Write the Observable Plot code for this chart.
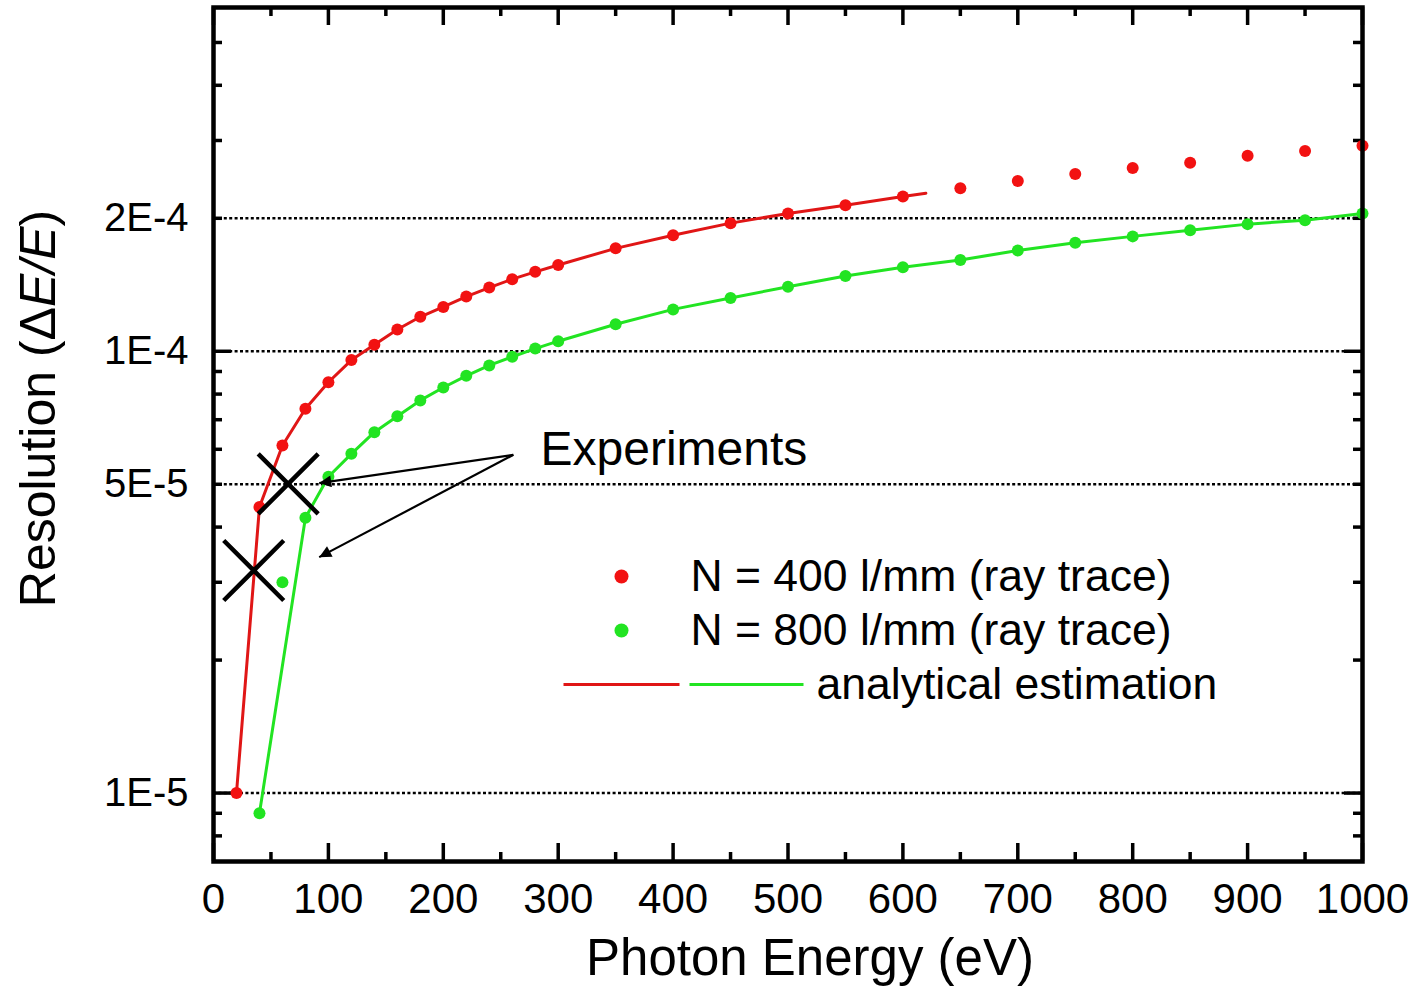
<!DOCTYPE html>
<html>
<head>
<meta charset="utf-8">
<script src="https://cdn.jsdelivr.net/npm/d3@7"></script>
<script src="https://cdn.jsdelivr.net/npm/@observablehq/plot@0.6"></script>
<style>
  html, body { margin: 0; padding: 0; background: #fff; }
  #chart svg { display: block; }
</style>
</head>
<body>
<div id="chart"></div>
<script>
// ---------- data ----------
const energyRed = [20,40,60,80,100,120,140,160,180,200,220,240,260,280,300,350,400,450,500,550,600,650,700,750,800,850,900,950,1000];
const resRed    = [1.0e-5,4.44e-5,6.12e-5,7.41e-5,8.51e-5,9.55e-5,1.035e-4,1.12e-4,1.197e-4,1.26e-4,1.33e-4,1.394e-4,1.456e-4,1.513e-4,1.568e-4,1.71e-4,1.83e-4,1.95e-4,2.05e-4,2.14e-4,2.24e-4,2.34e-4,2.43e-4,2.52e-4,2.60e-4,2.67e-4,2.77e-4,2.84e-4,2.92e-4];

const energyGreen = [40,60,80,100,120,140,160,180,200,220,240,260,280,300,350,400,450,500,550,600,650,700,750,800,850,900,950,1000];
const resGreen    = [9.0e-6,3.0e-5,4.2e-5,5.2e-5,5.86e-5,6.56e-5,7.13e-5,7.74e-5,8.28e-5,8.8e-5,9.29e-5,9.72e-5,1.014e-4,1.054e-4,1.151e-4,1.244e-4,1.32e-4,1.40e-4,1.48e-4,1.55e-4,1.61e-4,1.69e-4,1.76e-4,1.82e-4,1.88e-4,1.94e-4,1.98e-4,2.05e-4];

// analytical estimation curves
const energyRedLine = [20,40,60,80,100,120,140,160,180,200,220,240,260,280,300,350,400,450,500,550,600,620];
const resRedLine    = [1.0e-5,4.44e-5,6.12e-5,7.41e-5,8.51e-5,9.55e-5,1.035e-4,1.12e-4,1.197e-4,1.26e-4,1.33e-4,1.394e-4,1.456e-4,1.513e-4,1.568e-4,1.71e-4,1.83e-4,1.95e-4,2.05e-4,2.14e-4,2.24e-4,2.28e-4];
const energyGreenLine = [40,80,100,120,140,160,180,200,220,240,260,280,300,350,400,450,500,550,600,650,700,750,800,850,900,950,1000];
const resGreenLine    = [9.0e-6,4.2e-5,5.2e-5,5.86e-5,6.56e-5,7.13e-5,7.74e-5,8.28e-5,8.8e-5,9.29e-5,9.72e-5,1.014e-4,1.054e-4,1.151e-4,1.244e-4,1.32e-4,1.40e-4,1.48e-4,1.55e-4,1.61e-4,1.69e-4,1.76e-4,1.82e-4,1.88e-4,1.94e-4,1.98e-4,2.05e-4];

// experiments (X marks) and annotation arrows
const expEnergy = [35, 65];
const expRes    = [3.19e-5, 5.01e-5];
const arrowFromEnergy = [261, 261];
const arrowFromRes    = [5.83e-5, 5.83e-5];
const arrowToEnergy   = [92, 92];
const arrowToRes      = [5.03e-5, 3.42e-5];
const experimentsText = "Experiments";

// axes
const xTickValues = [0,100,200,300,400,500,600,700,800,900,1000];
const xMinorValues = [50,150,250,350,450,550,650,750,850,950];
const yTickValues = [1e-5, 5e-5, 1e-4, 2e-4];
const yTickLabels = ["1E-5", "5E-5", "1E-4", "2E-4"];
const yMajorValues = [1e-5, 1e-4];
const yMinorValues = [8e-6,9e-6,2e-5,3e-5,4e-5,5e-5,6e-5,7e-5,8e-5,9e-5,2e-4,3e-4,4e-4,5e-4];
const xTitle = "Photon Energy (eV)";
const yTitle = "Resolution (ΔE/E)";

// legend
const legendLabels = ["N = 400 l/mm (ray trace)", "N = 800 l/mm (ray trace)", "analytical estimation"];

// ---------- build ----------
const RED = "#f21212", RED_LINE = "#e01616", GREEN = "#22e422";
const W = 1418, H = 986;
const mT = 7, mB = 125, mL = 213, mR = 56;
const innerW = W - mL - mR, innerH = H - mT - mB;
const FONT = "'Liberation Sans', Arial, Helvetica, sans-serif";

const redDots = energyRed.map((e, i) => ({e, r: resRed[i]}));
const greenDots = energyGreen.map((e, i) => ({e, r: resGreen[i]}));
const redLine = energyRedLine.map((e, i) => ({e, r: resRedLine[i]}));
const greenLine = energyGreenLine.map((e, i) => ({e, r: resGreenLine[i]}));
const experiments = expEnergy.map((e, i) => ({e, r: expRes[i]}));
const arrows = arrowFromEnergy.map((e, i) => ({x1: e, y1: arrowFromRes[i], x2: arrowToEnergy[i], y2: arrowToRes[i]}));

const crossSymbol = {
  draw(ctx, size) {
    const r = Math.sqrt(size / Math.PI);
    ctx.moveTo(-r, -r); ctx.lineTo(r, r);
    ctx.moveTo(-r, r); ctx.lineTo(r, -r);
  }
};
const hLineSymbol = {
  draw(ctx, size) {
    const r = Math.sqrt(size / Math.PI);
    ctx.moveTo(-r, 0); ctx.lineTo(r, 0);
  }
};

const TK = 3.5;
const LEG = 44.5;
const plot = Plot.plot({
  width: W, height: H,
  marginTop: mT, marginBottom: mB, marginLeft: mL, marginRight: mR,
  style: {fontFamily: FONT, background: "#fff", color: "#000", overflow: "visible"},
  x: {domain: [0, 1000]},
  y: {type: "log", domain: [7e-6, 6e-4]},
  marks: [
    // dotted grid lines
    Plot.ruleY(yTickValues, {stroke: "#000", strokeWidth: 2.6, strokeDasharray: "3,2.4"}),
    // inward ticks
    Plot.ruleX(xTickValues, {stroke: "#000", strokeWidth: TK, insetTop: innerH - 18}),
    Plot.ruleX(xMinorValues, {stroke: "#000", strokeWidth: TK, insetTop: innerH - 9}),
    Plot.ruleX(xTickValues, {stroke: "#000", strokeWidth: TK, insetBottom: innerH - 18}),
    Plot.ruleX(xMinorValues, {stroke: "#000", strokeWidth: TK, insetBottom: innerH - 9}),
    Plot.ruleY(yMajorValues, {stroke: "#000", strokeWidth: TK, insetRight: innerW - 18}),
    Plot.ruleY(yMinorValues, {stroke: "#000", strokeWidth: TK, insetRight: innerW - 9}),
    Plot.ruleY(yMajorValues, {stroke: "#000", strokeWidth: TK, insetLeft: innerW - 18}),
    Plot.ruleY(yMinorValues, {stroke: "#000", strokeWidth: TK, insetLeft: innerW - 9}),
    // analytical curves
    Plot.line(redLine, {x: "e", y: "r", stroke: RED_LINE, strokeWidth: 3}),
    Plot.line(greenLine, {x: "e", y: "r", stroke: GREEN, strokeWidth: 3}),
    // ray trace dots
    Plot.dot(redDots, {x: "e", y: "r", r: 6, fill: RED}),
    Plot.dot(greenDots, {x: "e", y: "r", r: 6, fill: GREEN}),
    // experiments
    Plot.dot(experiments, {x: "e", y: "r", r: 30, symbol: crossSymbol, stroke: "#000", strokeWidth: 4.5, fill: "none"}),
    Plot.link(arrows, {x1: "x1", y1: "y1", x2: "x2", y2: "y2", stroke: "#000", strokeWidth: 2.2}),
    Plot.text([experimentsText], {text: d => d, frameAnchor: "top-left", dx: 540 - mL, dy: 449 - mT, textAnchor: "start", lineAnchor: "middle", fontSize: 48, fill: "#000"}),
    // legend
    Plot.dot([0], {frameAnchor: "top-left", dx: 621 - mL, dy: 576 - mT, r: 7, fill: RED}),
    Plot.dot([0], {frameAnchor: "top-left", dx: 621 - mL, dy: 630 - mT, r: 7, fill: GREEN}),
    Plot.dot([0], {frameAnchor: "top-left", dx: 621 - mL, dy: 684 - mT, r: 58, symbol: hLineSymbol, stroke: RED_LINE, strokeWidth: 3, fill: "none"}),
    Plot.dot([0], {frameAnchor: "top-left", dx: 746 - mL, dy: 684 - mT, r: 57, symbol: hLineSymbol, stroke: GREEN, strokeWidth: 3, fill: "none"}),
    Plot.text([legendLabels[0]], {text: d => d, frameAnchor: "top-left", dx: 690 - mL, dy: 576 - mT, textAnchor: "start", lineAnchor: "middle", fontSize: LEG, fill: "#000"}),
    Plot.text([legendLabels[1]], {text: d => d, frameAnchor: "top-left", dx: 690 - mL, dy: 630 - mT, textAnchor: "start", lineAnchor: "middle", fontSize: LEG, fill: "#000"}),
    Plot.text([legendLabels[2]], {text: d => d, frameAnchor: "top-left", dx: 816 - mL, dy: 684 - mT, textAnchor: "start", lineAnchor: "middle", fontSize: LEG, fill: "#000"}),
    // axes (labels only)
    Plot.axisX({ticks: xTickValues, tickSize: 0, tickPadding: 22, fontSize: 42, label: null, tickFormat: d => String(d)}),
    Plot.axisY({ticks: yTickValues, tickSize: 0, tickPadding: 25, fontSize: 40, label: null, tickFormat: d => yTickLabels[yTickValues.indexOf(d)]}),
    Plot.text([xTitle], {text: d => d, frameAnchor: "bottom", dx: 22, dy: 97, textAnchor: "middle", lineAnchor: "middle", fontSize: 51, fill: "#000"}),
    Plot.text([yTitle], {text: d => d, frameAnchor: "left", dx: 38 - mL, dy: 408 - (mT + innerH / 2), rotate: -90, textAnchor: "middle", lineAnchor: "middle", fontSize: 50, fill: "#000"}),
    // frame
    Plot.frame({stroke: "#000", strokeWidth: 4.5})
  ]
});

document.getElementById("chart").appendChild(plot);

// filled arrowheads
const ns = "http://www.w3.org/2000/svg";
const svg = plot.tagName.toLowerCase() === "svg" ? plot : plot.querySelector("svg");
const defs = document.createElementNS(ns, "defs");
const marker = document.createElementNS(ns, "marker");
marker.setAttribute("id", "ahead-fill");
marker.setAttribute("viewBox", "0 0 10 10");
marker.setAttribute("refX", "10");
marker.setAttribute("refY", "5");
marker.setAttribute("markerWidth", "18");
marker.setAttribute("markerHeight", "12");
marker.setAttribute("markerUnits", "userSpaceOnUse");
marker.setAttribute("orient", "auto");
const mp = document.createElementNS(ns, "path");
mp.setAttribute("d", "M0,0L10,5L0,10Z");
mp.setAttribute("fill", "#000");
marker.appendChild(mp);
defs.appendChild(marker);
svg.insertBefore(defs, svg.firstChild);
svg.querySelectorAll('g[aria-label="link"] path').forEach(p => p.setAttribute("marker-end", "url(#ahead-fill)"));

// italic E/E in y title
svg.querySelectorAll("text").forEach(t => {
  if (t.textContent === yTitle) {
    while (t.firstChild) t.removeChild(t.firstChild);
    const t1 = document.createElementNS(ns, "tspan"); t1.textContent = "Resolution (Δ";
    const t2 = document.createElementNS(ns, "tspan"); t2.textContent = "E/E"; t2.setAttribute("font-style", "italic");
    const t3 = document.createElementNS(ns, "tspan"); t3.textContent = ")";
    t.appendChild(t1); t.appendChild(t2); t.appendChild(t3);
  }
});
</script>
</body>
</html>
